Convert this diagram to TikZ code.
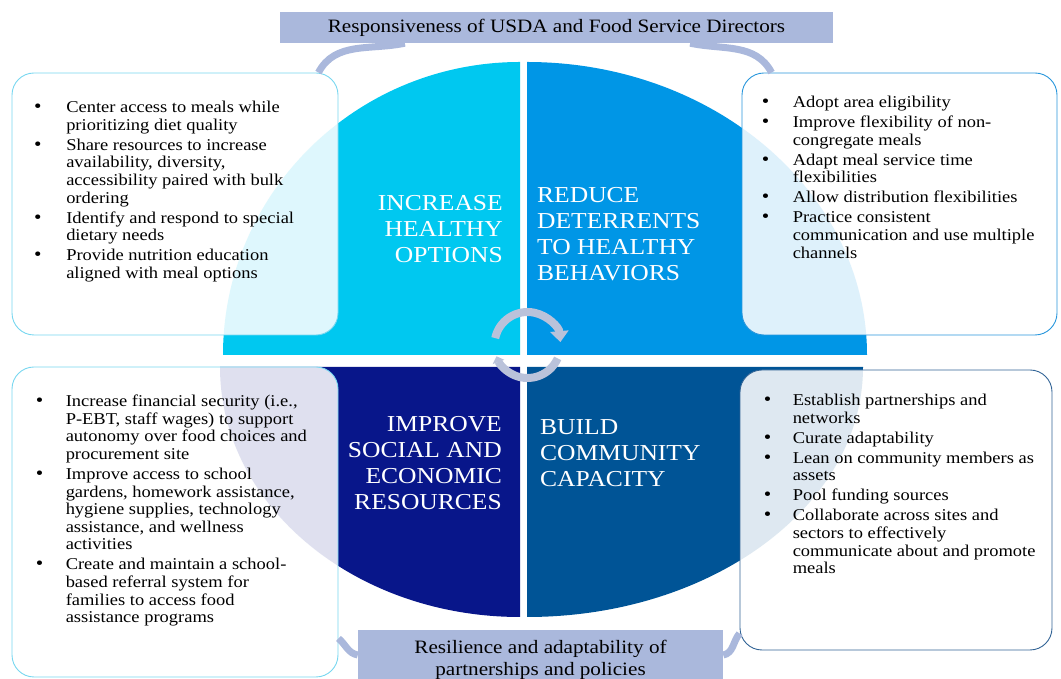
\documentclass[tikz,border=0pt]{standalone}
\usepackage{fontspec}
\setmainfont{Liberation Serif}[FakeStretch=1.12]
\usetikzlibrary{arrows.meta}

\definecolor{qcyan}{RGB}{0,200,240}
\definecolor{qblue}{RGB}{0,150,230}
\definecolor{qnavy}{RGB}{8,22,138}
\definecolor{qsteel}{RGB}{0,84,150}
\definecolor{bannerfill}{RGB}{170,184,220}
\definecolor{cyclegray}{RGB}{186,194,218}
\definecolor{lineCyan}{RGB}{120,215,240}
\definecolor{lineBlue}{RGB}{40,150,220}
\definecolor{lineSteel}{RGB}{50,100,150}

\newcommand{\dotitem}{{\fontsize{19}{14}\selectfont\textbullet}}

\begin{document}
\begin{tikzpicture}[%
      x=1pt, y=1pt,
      box/.style={draw, line width=0.9pt, rounded corners=22pt, fill=white, fill opacity=0.87, inner sep=0pt},
      items/.style={anchor=north west, inner sep=0pt, font=\fontsize{16.5}{17.6}\selectfont},
      lbl/.style={text=white, inner sep=0pt, font=\fontsize{22.8}{26}\selectfont},
      banner/.style={fill=bannerfill, inner sep=0pt, font=\fontsize{18.9}{22}\selectfont},
      link/.style={draw=bannerfill, line width=7pt},
      cyc/.style={draw=cyclegray, line width=8pt},
      ]
      \useasboundingbox (0,0) rectangle (1061,679);
      \clip (0,0) rectangle (1061,679);

      % four quadrants
      \fill [qcyan] (520,324) -- (223,324) arc [start angle=180, end angle=90, x radius=297pt, y radius=293pt] -- cycle;
      \fill [qblue] (527,324) -- (527,617) arc [start angle=90, end angle=0, x radius=340pt, y radius=293pt] -- cycle;
      \fill [qnavy] (520,312) -- (220,312) arc [start angle=180, end angle=270, x radius=300pt, y radius=250pt] -- cycle;
      \fill [qsteel] (527,312) -- (527,62) arc [start angle=270, end angle=360, x radius=336pt, y radius=250pt] -- cycle;

      % cycle arrows
      \coordinate (ctr) at (527.5,334);
      \draw [cyc, -{Triangle[width=18pt,length=11pt]}] ([shift={(168:33pt)}]ctr) arc [start angle=168, end angle=5, radius=33pt];
      \draw [cyc, -{Triangle[width=12pt,length=6pt]}] ([shift={(-24:33pt)}]ctr) arc [start angle=-24, end angle=-160, radius=33pt];

      % boxes
      \node [box, draw=lineCyan, minimum width=326pt, minimum height=262pt] (tlbox) at (175,475) {};
      \node [box, draw=lineBlue, minimum width=315pt, minimum height=262pt] (trbox) at (899.5,475) {};
      \node [box, draw=lineCyan, minimum width=326pt, minimum height=310pt] (blbox) at (175,157) {};
      \node [box, draw=lineSteel, minimum width=312pt, minimum height=280pt] (brbox) at (896,169) {};

      % banners
      \node [banner, minimum width=553pt, minimum height=31pt] (resp) at (556.5,651.5) {Responsiveness of USDA and Food Service Directors};
      \node [banner, minimum width=365pt, minimum height=60pt, align=center] (resil) at (540.5,19) {Resilience and adaptability of\\partnerships and policies};

      \draw [link] ([xshift=-20pt]tlbox.north east) to [out=62, in=192] ([xshift=125pt]resp.south west);
      \draw [link] ([xshift=-143pt]resp.south east) to [out=-12, in=118] ([xshift=30pt]trbox.north west);
      \draw [link] ([yshift=39pt]blbox.south east) to [out=-40, in=170] ([yshift=5pt]resil.west);
      \draw [link] ([yshift=5pt]resil.east) to [out=10, in=-130] ([yshift=17pt]brbox.south west);

      % quadrant titles
      \node [lbl, anchor=east, align=right] (tllbl) at (503,450) {INCREASE\\HEALTHY\\OPTIONS};
      \node [lbl, anchor=west, align=left] (trlbl) at (537,445) {REDUCE\\DETERRENTS\\TO HEALTHY\\BEHAVIORS};
      \node [lbl, anchor=east, align=right] (bllbl) at (502,216) {IMPROVE\\SOCIAL AND\\ECONOMIC\\RESOURCES};
      \node [lbl, anchor=west, align=left] (brlbl) at (540,226) {BUILD\\COMMUNITY\\CAPACITY};

      % bullet lists
      \node [items] (tltext) at ([xshift=22.5pt,yshift=-27.7pt]tlbox.north west) {%
        \begin{tabular}{@{}p{32pt}@{}l@{}}
        \dotitem & Center access to meals while\\
         & prioritizing diet quality\\[2.4pt]
        \dotitem & Share resources to increase\\
         & availability, diversity,\\
         & accessibility paired with bulk\\
         & ordering\\[2.4pt]
        \dotitem & Identify and respond to special\\
         & dietary needs\\[2.4pt]
        \dotitem & Provide nutrition education\\
         & aligned with meal options
        \end{tabular}};
      \node [items] (trtext) at ([xshift=20pt,yshift=-22.7pt]trbox.north west) {%
        \begin{tabular}{@{}p{31pt}@{}l@{}}
        \dotitem & Adopt area eligibility\\[2.4pt]
        \dotitem & Improve flexibility of non-\\
         & congregate meals\\[2.4pt]
        \dotitem & Adapt meal service time\\
         & flexibilities\\[2.4pt]
        \dotitem & Allow distribution flexibilities\\[2.4pt]
        \dotitem & Practice consistent\\
         & communication and use multiple\\
         & channels
        \end{tabular}};
      \node [items] (bltext) at ([xshift=24pt,yshift=-27.7pt]blbox.north west) {%
        \begin{tabular}{@{}p{30pt}@{}l@{}}
        \dotitem & Increase financial security (i.e.,\\
         & P-EBT, staff wages) to support\\
         & autonomy over food choices and\\
         & procurement site\\[2.4pt]
        \dotitem & Improve access to school\\
         & gardens, homework assistance,\\
         & hygiene supplies, technology\\
         & assistance, and wellness\\
         & activities\\[2.4pt]
        \dotitem & Create and maintain a school-\\
         & based referral system for\\
         & families to access food\\
         & assistance programs
        \end{tabular}};
      \node [items] (brtext) at ([xshift=24pt,yshift=-23.7pt]brbox.north west) {%
        \begin{tabular}{@{}p{29pt}@{}l@{}}
        \dotitem & Establish partnerships and\\
         & networks\\[2.4pt]
        \dotitem & Curate adaptability\\[2.4pt]
        \dotitem & Lean on community members as\\
         & assets\\[2.4pt]
        \dotitem & Pool funding sources\\[2.4pt]
        \dotitem & Collaborate across sites and\\
         & sectors to effectively\\
         & communicate about and promote\\
         & meals
        \end{tabular}};
      \end{tikzpicture}
\end{document}
